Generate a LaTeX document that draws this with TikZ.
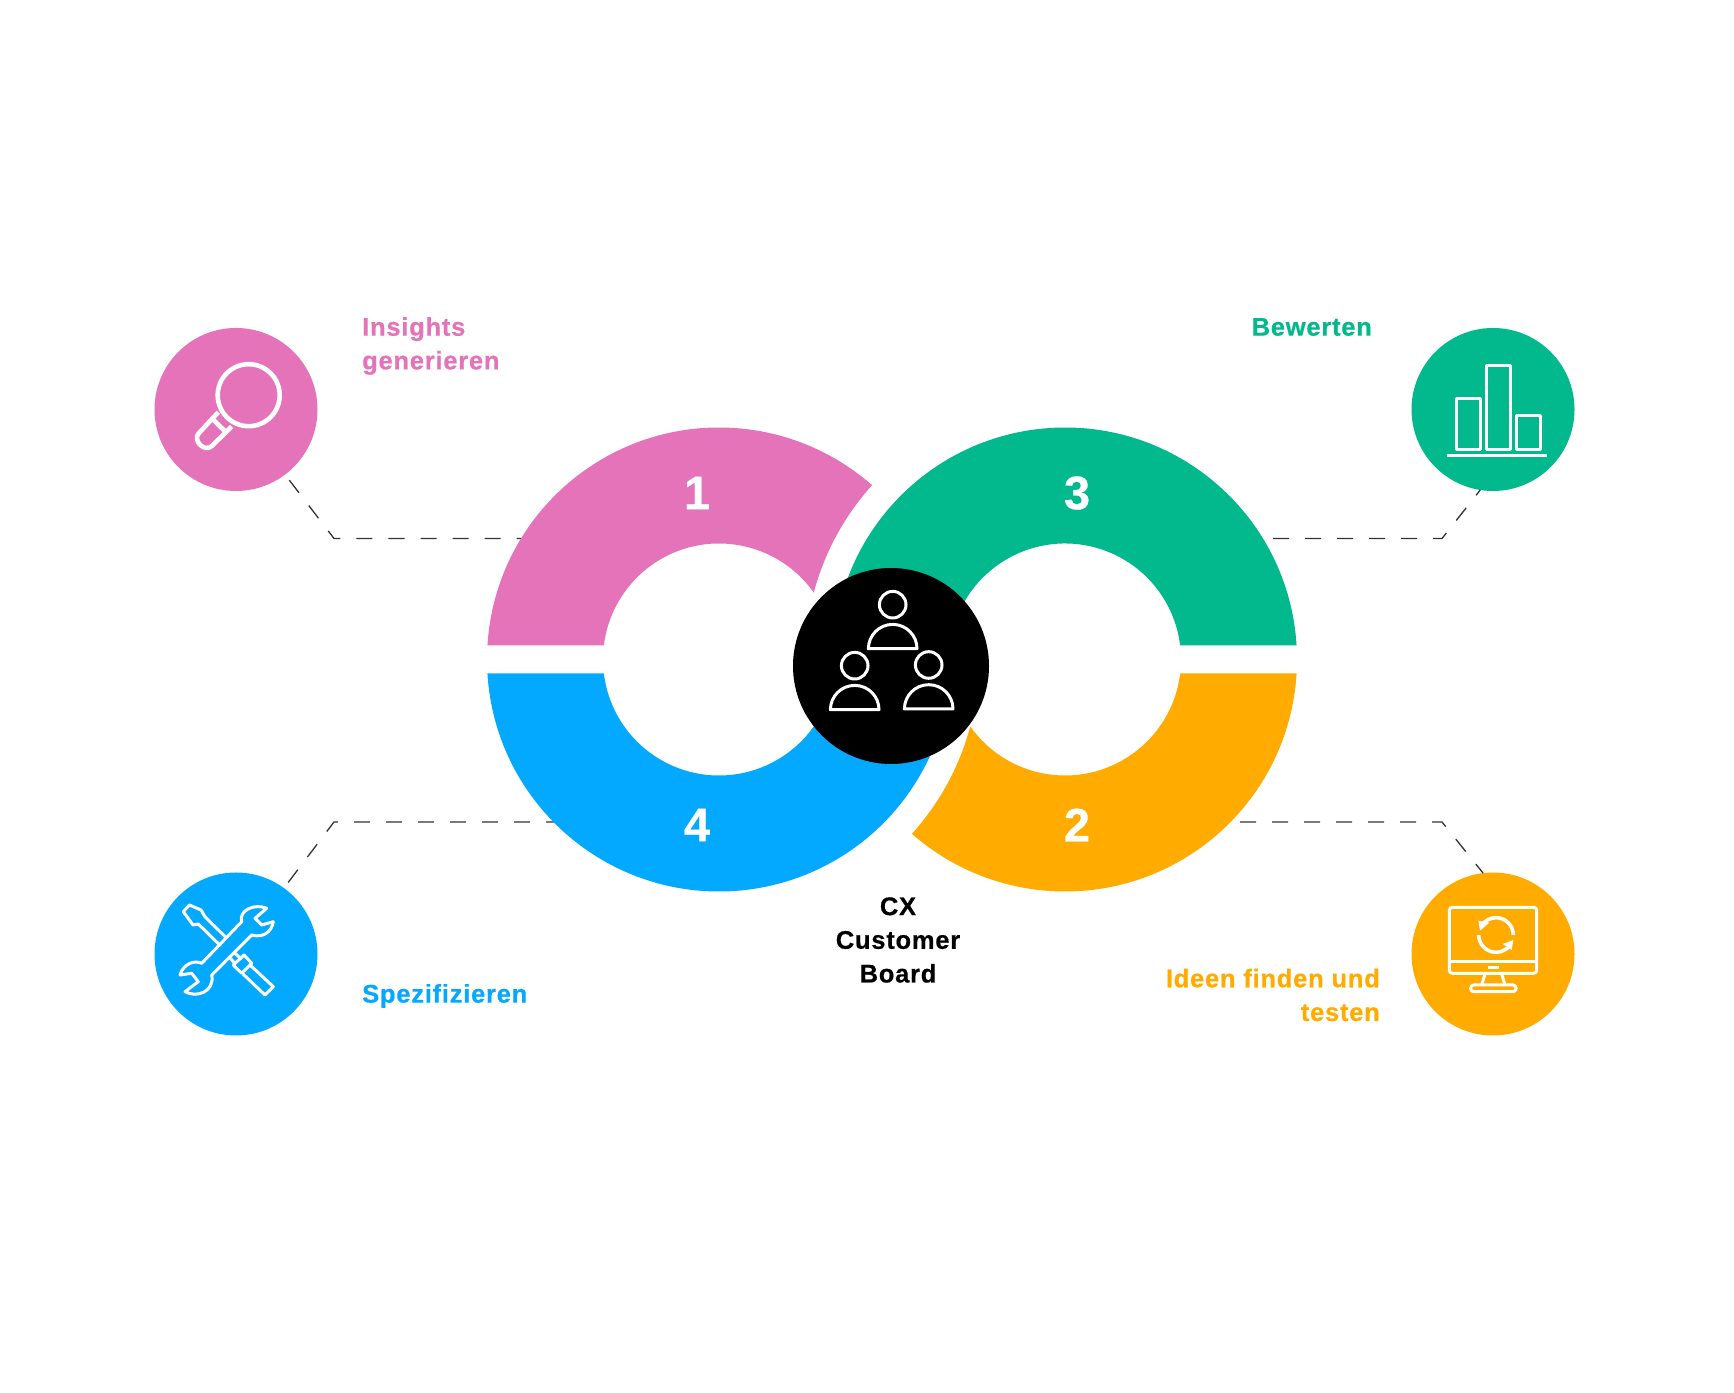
\documentclass[tikz,border=0pt]{standalone}
\usepackage{fontspec}
\usepackage{xcolor}
\setmainfont{Liberation Sans}[LetterSpace=3,Ligatures=NoCommon,BoldFeatures={FakeBold=0.5}]
\newfontfamily\ziffern{Liberation Sans}[BoldFeatures={FakeBold=0.5}]
\usetikzlibrary{
    positioning,
    calc
}
\definecolor{CxRosa}{HTML}{E573B9}
\definecolor{CxGruen}{HTML}{02B88D}
\definecolor{CxBlau}{HTML}{03A9FF}
\definecolor{CxOrange}{HTML}{FFAB00}
\definecolor{CxStrich}{HTML}{333333}
\tikzset{
    iconcircle/.style={
        circle,
        minimum size=163pt,
        inner sep=0pt,
        outer sep=0pt
    },
    phaselabel/.style={
        font=\fontsize{25.5}{33.7}\selectfont\bfseries,
        inner sep=0pt
    },
    ringnumber/.style={
        font=\ziffern\fontsize{47}{47}\selectfont\bfseries,
        text=white,
        inner sep=0pt
    },
    leader/.style={
        draw=CxStrich,
        line width=1.3pt,
        dash pattern=on 16pt off 16pt
    },
    iconline/.style={
        draw=white,
        line width=3pt,
        line join=round
    }
}

\begin{document}
\begin{tikzpicture}[x=1pt,y=1pt]
    \fill[white] (0,0) rectangle (1734,1392);
    \useasboundingbox (0,0) rectangle (1734,1392);

    \node[iconcircle,fill=CxRosa] (insights) at (236,982.5) {};
    \node[iconcircle,fill=CxGruen] (bewerten) at (1493,982.5) {};
    \node[iconcircle,fill=CxOrange] (ideen) at (1493,438) {};
    \node[iconcircle,fill=CxBlau] (spezifizieren) at (236,438) {};

    \coordinate (eckeRosa) at (334,853.5);
    \coordinate (eckeGruen) at (1442,853.5);
    \coordinate (eckeOrange) at (1442,570);
    \coordinate (eckeBlau) at (334,570);
    \coordinate (endeRosa) at (525,853.5);
    \coordinate (endeGruen) at (1273,853.5);
    \coordinate (endeOrange) at (1240,570);
    \coordinate (endeBlau) at (555,570);

    \draw[leader,shorten <=7pt] (insights.-53.6) -- (eckeRosa) -- (endeRosa);
    \draw[leader,shorten <=7pt] (spezifizieren.54.7) -- (eckeBlau) -- (endeBlau);
    \draw[leader] (endeGruen) -- (eckeGruen) -- (bewerten.-99);
    \draw[leader] (endeOrange) -- (eckeOrange) -- (ideen.97.6);

    \fill[CxGruen] (1065,732.5) +(3.46:232)
        arc[start angle=3.46,end angle=164,radius=232]
        -- ++(-16:116)
        arc[start angle=164,end angle=6.93,radius=116] -- cycle;
    \fill[CxBlau] (719,732.5) +(183.46:232)
        arc[start angle=183.46,end angle=336,radius=232]
        -- ++(156:116)
        arc[start angle=336,end angle=186.93,radius=116] -- cycle;
    \fill[CxRosa] (719,732.5) +(176.54:232)
        arc[start angle=176.54,end angle=48.71,radius=232]
        arc[start angle=137.9,end angle=165.09,radius=260]
        arc[start angle=35.22,end angle=173.07,radius=116] -- cycle;
    \fill[CxOrange] (1065,732.5) +(-3.46:232)
        arc[start angle=-3.46,end angle=-131.29,radius=232]
        arc[start angle=-42.1,end angle=-14.91,radius=260]
        arc[start angle=-144.78,end angle=-6.93,radius=116] -- cycle;

    \node[
        circle,
        fill=black,
        minimum size=196pt,
        inner sep=0pt
    ] (board) at (891,726) {};

    \node[ringnumber] (nummer1) at (697,899) {1};
    \node[ringnumber] (nummer3) at (1077,899) {3};
    \node[ringnumber] (nummer4) at (697,567) {4};
    \node[ringnumber] (nummer2) at (1077,567) {2};

    \node[phaselabel,text=CxRosa,anchor=west,align=left] (labelInsights) at (362,1046) {Insights\\generieren};
    \node[phaselabel,text=CxGruen,anchor=east,align=right] (labelBewerten) at (1372,1065) {Bewerten};
    \node[phaselabel,text=CxBlau,anchor=west,align=left] (labelSpezifizieren) at (362,396) {Spezifizieren};
    \node[phaselabel,text=CxOrange,anchor=east,align=right] (labelIdeen) at (1380,397) {Ideen finden und\\testen};
    \node[phaselabel,text=black,align=center] (labelBoard) at (898,452) {CX\\Customer\\Board};

    \begin{scope}[shift={(insights)}]
        \draw[iconline,line width=4.6pt] (12.7,14.3) circle (31);
        \draw[iconline,line width=4.6pt] (-17.7,-2.7) -- (-37.7,-24.3)
            .. controls (-43,-31) and (-32,-43) .. (-24.3,-36.7) -- (-4.3,-17);
        \draw[iconline,line width=4.6pt] (-22.7,-10.3) -- (-11,-21.7);
    \end{scope}

    \begin{scope}[shift={(bewerten)}]
        \draw[iconline] (-37,-40) rectangle (-13,11.3);
        \draw[iconline] (-7,-40) rectangle (17.7,43.7);
        \draw[iconline] (23,-40) rectangle (47.7,-6);
        \draw[iconline] (-46.3,-46.3) -- (54.3,-46.3);
    \end{scope}

    \begin{scope}[shift={(spezifizieren)}]
        \draw[iconline] (-9.3,15.7) -- (-31,37.3) -- (-35,44) -- (-46.7,49) -- (-52.7,42.3)
            -- (-43,29) -- (-37.7,30) -- (-15.3,8);
        \draw[iconline] (-2.7,2.3) -- (5.7,-5.3);
        \draw[iconline] (-6.7,-3.3) -- (-1,-9.3);
        \draw[iconline] (8,-1) -- (15.7,-9.3) -- (5.7,-19.3) -- (-2.7,-11) -- cycle;
        \draw[iconline] (14,-11) -- (37.3,-32.7) -- (29,-41) -- (7,-20);
        \draw[iconline] (-24.3,-21) -- (15.7,19)
            .. controls (27.3,15.7) and (35.7,22.3) .. (37.3,32.3)
            -- (25.7,29) -- (19,35.7) -- (30.7,45.7)
            .. controls (19,50.7) and (2.3,44) .. (5.7,32.3)
            -- (-34.3,-9.3)
            .. controls (-41,-6) and (-52.7,-9.3) .. (-56,-21)
            -- (-44.3,-19.3) -- (-37.7,-27.7) -- (-51,-37.7)
            .. controls (-39.3,-44.3) and (-21,-37.7) .. (-24.3,-21) -- cycle;
    \end{scope}

    \begin{scope}[shift={(ideen)}]
        \draw[iconline,rounded corners=3pt] (-43.7,-19.3) rectangle (43.7,46.7);
        \draw[iconline] (-43.7,-7.3) -- (43.7,-7.3);
        \draw[iconline] (-5.3,-13.3) -- (6,-13.3);
        \draw[iconline] (-8,-20) -- (-11.3,-31);
        \draw[iconline] (8.7,-20) -- (12,-31);
        \draw[iconline,rounded corners=3pt] (-22.3,-37.7) rectangle (23,-31);
        \draw[iconline,line width=3.6pt] (20.3,19) arc[start angle=0,end angle=145,radius=17.3];
        \draw[iconline,line width=3.6pt] (-14.3,19) arc[start angle=180,end angle=325,radius=17.3];
        \fill[white] (-14.7,33.3) -- (-3.7,31.3) -- (-13,23.3) -- cycle;
        \fill[white] (20.3,14) -- (18.7,4) -- (9.7,10) -- cycle;
    \end{scope}

    \begin{scope}[shift={(board)}]
        \foreach \px/\py in {1.7/17.3,-36.3/-43.7,37.7/-43} {
            \draw[iconline] (\px,\py+44) circle (13.3);
            \draw[iconline] (\px-24.3,\py) arc[start angle=180,end angle=0,radius=24.3] -- cycle;
        }
    \end{scope}
\end{tikzpicture}
\end{document}
